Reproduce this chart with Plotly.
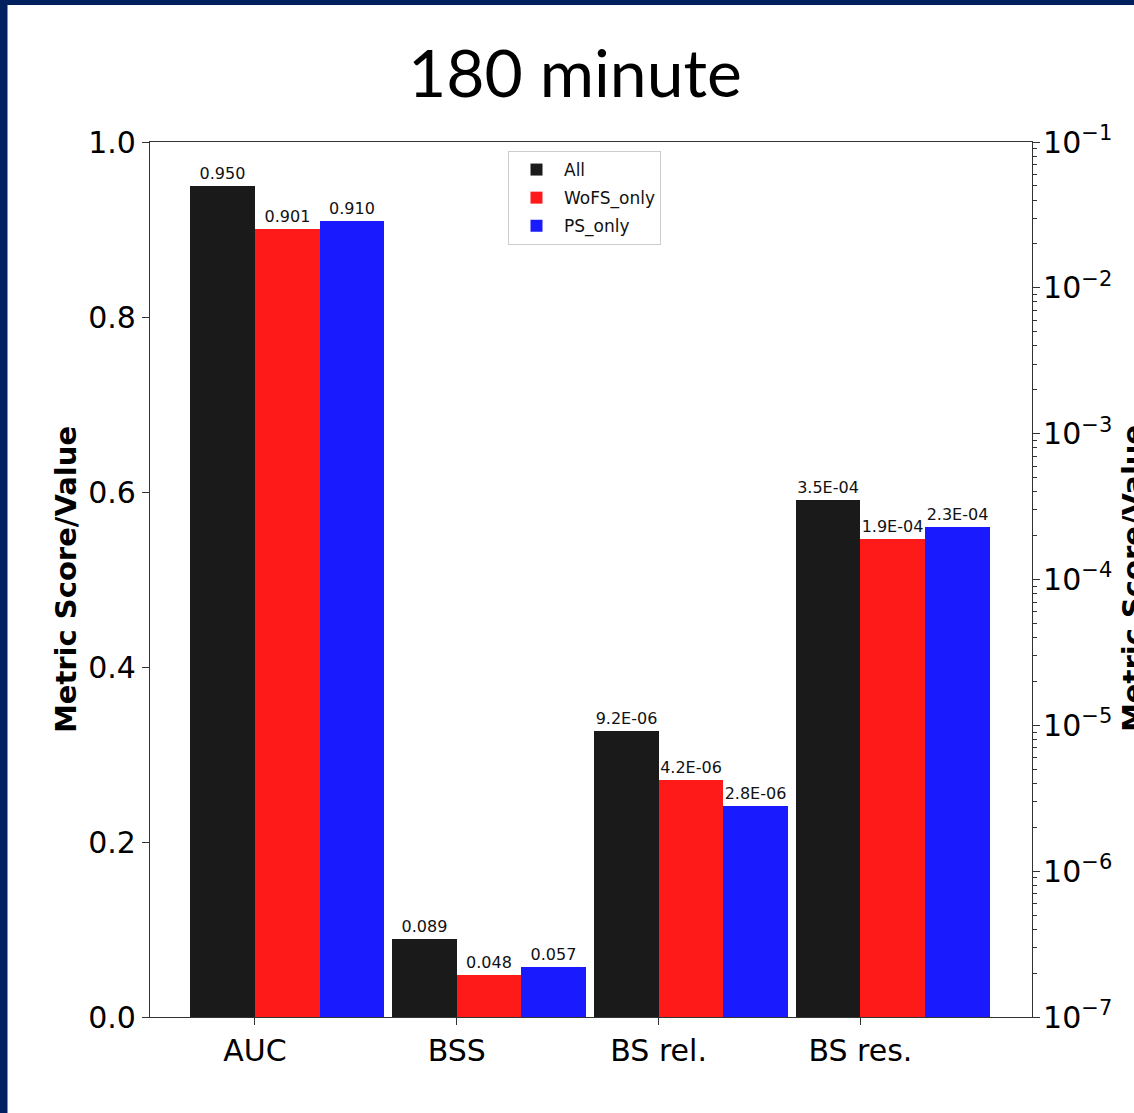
import plotly.graph_objects as go

# ---- data ----
categories = ["AUC", "BSS", "BS rel.", "BS res."]
series_names = ["All", "WoFS_only", "PS_only"]
all_vals = [0.950, 0.089, 9.2e-06, 3.5e-04]
wofs_vals = [0.901, 0.048, 4.2e-06, 1.9e-04]
ps_vals = [0.910, 0.057, 2.8e-06, 2.3e-04]
colors = ["#1a1a1a", "#ff1a1a", "#1a1aff"]
linear_idx = [0, 1]   # categories on the left (linear) axis
log_idx = [2, 3]      # categories on the right (log) axis
left_ticks = [0.0, 0.2, 0.4, 0.6, 0.8, 1.0]
right_exps = [-7, -6, -5, -4, -3, -2, -1]

# ---- layout geometry (pixels) ----
W, H = 1134, 1113
PL, PR, PT, PB = 150, 1032, 142, 1017


def px_x(x):
    return (x - PL) / (PR - PL)


def px_y(y):
    return 1 - (y - PT) / (PB - PT)


BAR_W = 0.32
offsets = [-0.32, 0.0, 0.32]
FONT = "DejaVu Sans"

fig = go.Figure()
for name, vals, col, off in zip(series_names, [all_vals, wofs_vals, ps_vals], colors, offsets):
    fig.add_trace(go.Bar(
        x=linear_idx, y=[vals[i] for i in linear_idx], name=name,
        width=BAR_W, offset=off, marker=dict(color=col, line=dict(width=0)),
        text=[f"{vals[i]:.3f}" for i in linear_idx], textposition="outside",
        textfont=dict(family=FONT, size=16, color="#111"), constraintext="none",
        cliponaxis=False, legendgroup=name, yaxis="y",
    ))
    fig.add_trace(go.Bar(
        x=log_idx, y=[vals[i] for i in log_idx], name=name, showlegend=False,
        width=BAR_W, offset=off, marker=dict(color=col, line=dict(width=0)),
        text=[f"{vals[i]:.1E}" for i in log_idx], textposition="outside",
        textfont=dict(family=FONT, size=16, color="#111"), constraintext="none",
        cliponaxis=False, legendgroup=name, yaxis="y2",
    ))

minor_vals = [m * 10 ** e for e in right_exps[:-1] for m in range(2, 10)]

fig.update_layout(
    width=W, height=H,
    margin=dict(l=PL, r=W - PR, t=PT, b=H - PB, autoexpand=False),
    paper_bgcolor="white", plot_bgcolor="white",
    barmode="overlay", bargap=0,
    showlegend=True,
    font=dict(family=FONT, color="black"),
    xaxis=dict(
        range=[-0.52, 3.85], tickmode="array", tickvals=list(range(len(categories))),
        ticktext=categories, tickfont=dict(size=30, family=FONT),
        ticks="outside", ticklen=7, tickcolor="#333", showgrid=False, zeroline=False,
        showline=True, linecolor="#333", linewidth=1.2, mirror=True,
    ),
    yaxis=dict(
        range=[0, 1], tickmode="array", tickvals=left_ticks,
        ticktext=[f"{v:.1f}" for v in left_ticks], tickfont=dict(size=30, family=FONT),
        ticks="outside", ticklen=7, tickcolor="#333", showgrid=False, zeroline=False,
        showline=True, linecolor="#333", linewidth=1.2,
        title=dict(text="<b>Metric Score/Value</b>", font=dict(size=29, family=FONT), standoff=3),
        automargin=False,
    ),
    yaxis2=dict(
        type="log", range=[-7, -1], overlaying="y", side="right",
        tickmode="array", tickvals=[10 ** e for e in right_exps],
        ticktext=[f"10<sup>\u2212{-e}</sup>" for e in right_exps],
        tickfont=dict(size=30, family=FONT), ticklabelstandoff=-3,
        ticks="outside", ticklen=7, tickcolor="#333", showgrid=False, zeroline=False,
        showline=True, linecolor="#333", linewidth=1.2,
        minor=dict(tickvals=minor_vals, ticks="outside", ticklen=4, tickcolor="#333", showgrid=False),
        automargin=False,
    ),
    legend=dict(
        x=px_x(508), y=px_y(151), xanchor="left", yanchor="top",
        bgcolor="rgba(255,255,255,0.8)", bordercolor="#cccccc", borderwidth=1,
        font=dict(size=17, family=FONT, color="#111"),
        tracegroupgap=3, itemwidth=45,
    ),
    annotations=[
        dict(
            text="180 minute", x=px_x(575), y=px_y(72), xref="paper", yref="paper",
            xanchor="center", yanchor="middle", showarrow=False,
            font=dict(family="Lato", size=66, color="black"),
        ),
        dict(
            text="<b>Metric Score/Value</b>", x=px_x(1114), y=px_y(579), xref="paper", yref="paper",
            xanchor="left", yanchor="middle", showarrow=False, textangle=-90,
            font=dict(family=FONT, size=29, color="black"),
        ),
    ],
    shapes=[
        dict(type="rect", xref="paper", yref="paper", x0=px_x(0), x1=px_x(7.5),
             y0=px_y(H), y1=px_y(0), fillcolor="#002060", line=dict(width=0), layer="below"),
        dict(type="rect", xref="paper", yref="paper", x0=px_x(0), x1=px_x(W),
             y0=px_y(5), y1=px_y(0), fillcolor="#002060", line=dict(width=0), layer="below"),
    ],
)

fig.write_html(
    "out.html",
    config={"displayModeBar": False},
    post_script="document.body.style.margin='0';document.body.style.overflow='hidden';",
)
